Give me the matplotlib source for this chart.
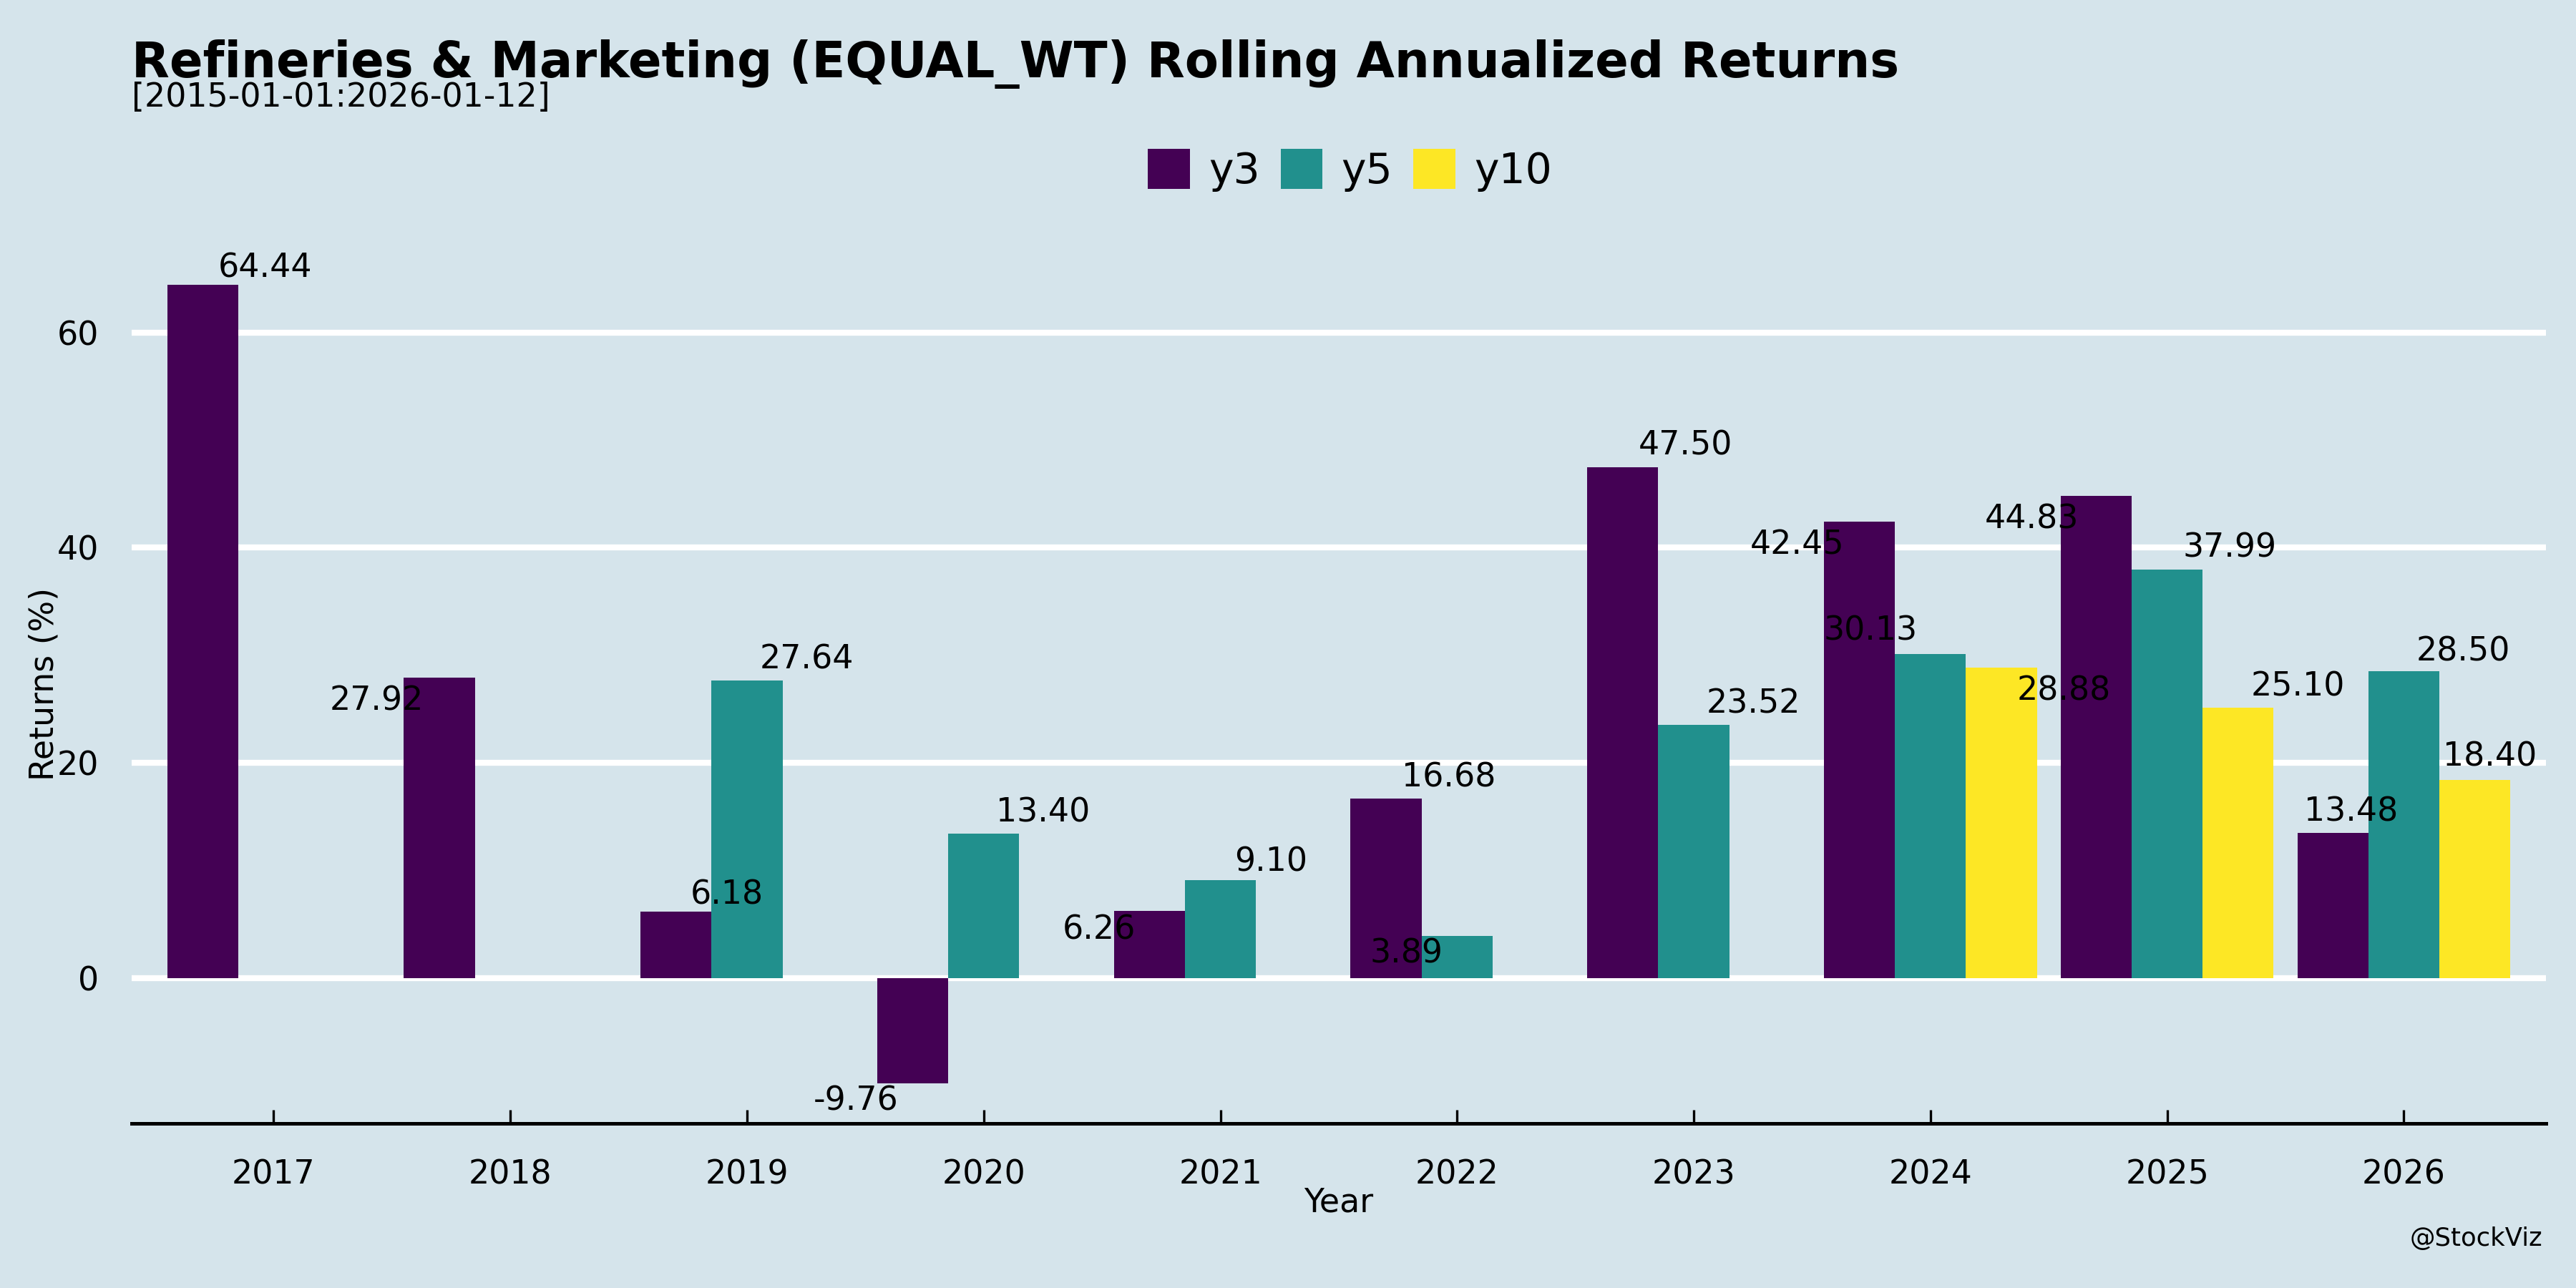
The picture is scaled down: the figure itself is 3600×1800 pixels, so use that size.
import numpy as np
import matplotlib
matplotlib.use("Agg")
import matplotlib.pyplot as plt
from matplotlib.patches import Patch

# ===== DATA =====
years = [2017, 2018, 2019, 2020, 2021, 2022, 2023, 2024, 2025, 2026]
y3 = [64.44, 27.92, 6.18, -9.76, 6.26, 16.68, 47.50, 42.45, 44.83, 13.48]
y5 = [np.nan, np.nan, 27.64, 13.40, 9.10, 3.89, 23.52, 30.13, 37.99, 28.50]
y10 = [np.nan, np.nan, np.nan, np.nan, np.nan, np.nan, np.nan, 28.88, 25.10, 18.40]

series_names = ["y3", "y5", "y10"]
series_values = [y3, y5, y10]

title = "Refineries & Marketing (EQUAL_WT) Rolling Annualized Returns"
subtitle = "[2015-01-01:2026-01-12]"

# ===== STYLE =====
bg_color = "#d5e4eb"
colors = ["#440154", "#21908d", "#fde725"]
bar_width = 0.3

# label offsets (points) from bar tip, per series, mimicking the repelled labels
label_offsets = [
    [(21, 5.5), (-21, -8), (17, 5.5), (-19, -6), (-17, -6.6), (21, 7), (21, 7), (-21, -8), (-21.5, -8), (6, 7)],
    [None, None, (20, 7), (20, 7), (17, 6), (-17, -6), (20, 7), (-20, 7.7), (21, 7), (20, 6.6)],
    [None] * 7 + [(21, -8), (20, 7), (5, 7.7)],
]

fig = plt.figure(figsize=(12, 6), dpi=300, facecolor=bg_color)
ax = fig.add_axes([0.0511, 0.128, 0.9372, 0.682])
ax.set_facecolor(bg_color)

x = np.arange(len(years)) + years[0]

for i, (name, vals) in enumerate(zip(series_names, series_values)):
    offset = (i - 1) * bar_width
    vals = np.array(vals, dtype=float)
    ax.bar(x + offset, vals, width=bar_width, color=colors[i],
           edgecolor="none", label=name, zorder=3)
    for j, v in enumerate(vals):
        if np.isnan(v):
            continue
        dx, dy = label_offsets[i][j]
        ax.annotate(f"{v:.2f}", xy=(x[j] + offset, v), xytext=(dx, dy),
                    textcoords="offset points", ha="center", va="center",
                    fontsize=11, zorder=4)

ax.set_xlim(2016.4, 2026.6)
ax.margins(y=0.05)
ax.set_xticks(x)
ax.set_xticklabels([str(y) for y in years])
ax.set_yticks([0, 20, 40, 60])

ax.grid(axis="y", color="white", linewidth=2, zorder=0)
ax.grid(axis="x", visible=False)
ax.set_axisbelow(True)

for side in ["top", "right", "left"]:
    ax.spines[side].set_visible(False)
ax.spines["bottom"].set_color("black")
ax.spines["bottom"].set_linewidth(1.2)

ax.tick_params(axis="x", direction="in", length=4.5, width=0.8, pad=12, labelsize=11)
ax.tick_params(axis="y", length=0, pad=11, labelsize=11)

ax.set_xlabel("Year", fontsize=11, labelpad=-1.5)
ax.set_ylabel("Returns (%)", fontsize=11, labelpad=-1.2)

fig.text(0.0511, 0.940, title, fontsize=16.5, fontweight="bold", ha="left", va="baseline")
fig.text(0.0511, 0.917, subtitle, fontsize=11, ha="left", va="baseline")
fig.text(0.987, 0.033, "@StockViz", fontsize=8.5, ha="right", va="baseline")

legend_handles = [Patch(facecolor=c, edgecolor="none", label=n)
                  for c, n in zip(colors, series_names)]
fig.legend(handles=legend_handles, loc="center", bbox_to_anchor=(0.524, 0.868),
           ncol=3, frameon=False, fontsize=14, handlelength=1.0, handleheight=1.1,
           handletextpad=0.45, columnspacing=0.5)

plt.savefig("out.png", dpi=300, facecolor=bg_color)
plt.close()
